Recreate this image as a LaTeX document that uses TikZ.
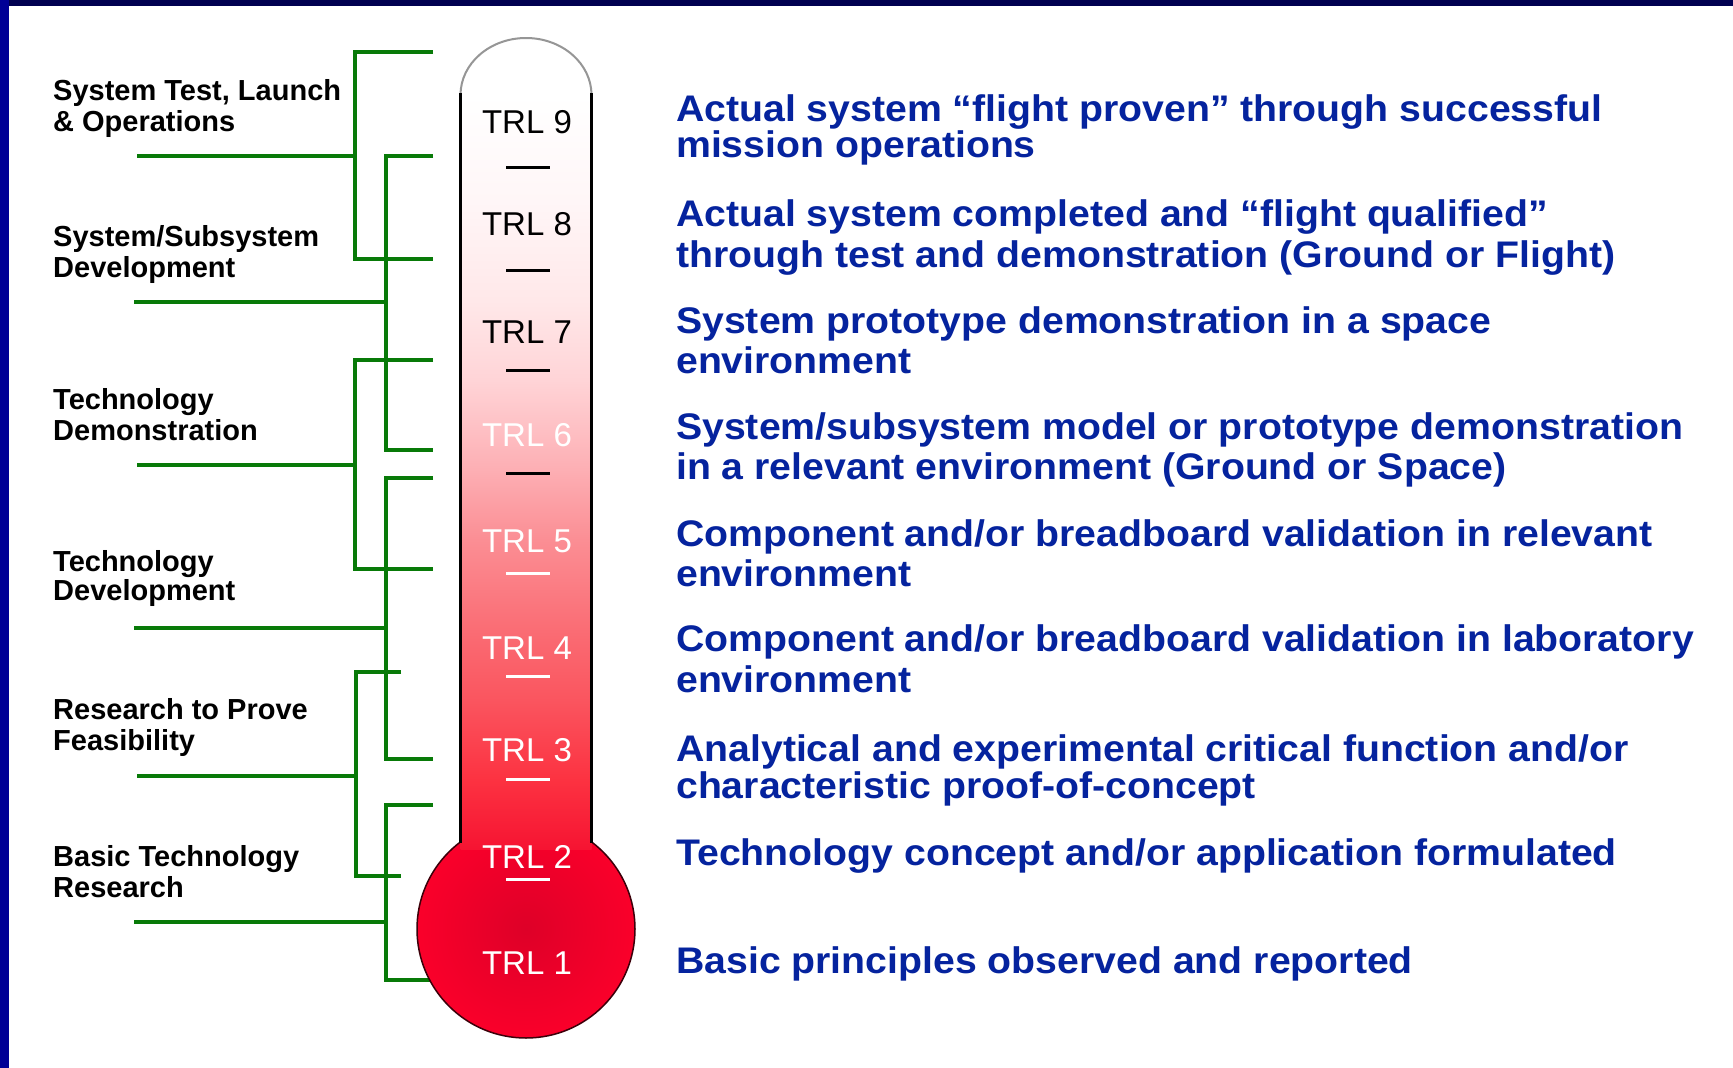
\documentclass[tikz,border=0pt]{standalone}
\usepackage{fontspec}
\setmainfont{Liberation Sans}
\newfontfamily\descfont{Liberation Sans}[FakeStretch=1.06]
\usepackage{tikz}

\definecolor{topbar}{RGB}{0,0,80}
\definecolor{sidebar}{RGB}{0,0,150}
\definecolor{trlgreen}{RGB}{8,122,8}
\definecolor{trlblue}{RGB}{5,35,158}
\definecolor{domeline}{RGB}{150,150,150}
\definecolor{bulbin}{RGB}{222,0,40}
\definecolor{bulbout}{RGB}{250,0,42}
\definecolor{bulbedge}{RGB}{60,0,10}
\definecolor{tb1}{RGB}{246,20,50}
\definecolor{tb2}{RGB}{252,50,65}
\definecolor{tb3}{RGB}{250,85,95}
\definecolor{tb4}{RGB}{250,105,113}
\definecolor{tb5}{RGB}{251,142,148}
\definecolor{tb6}{RGB}{253,175,180}
\definecolor{tb7}{RGB}{255,212,215}
\definecolor{tb8}{RGB}{255,232,233}
\definecolor{tb9}{RGB}{255,246,247}

\pgfdeclareverticalshading{tubefill}{100bp}{color(0bp)=(tb1); color(25bp)=(tb1); color(29.6bp)=(tb2); color(34.9bp)=(tb3); color(38.9bp)=(tb4); color(45.5bp)=(tb5); color(50.2bp)=(tb6); color(56.1bp)=(tb7); color(61.4bp)=(tb8); color(68bp)=(tb9); color(75bp)=(white); color(100bp)=(white)}

\tikzset{
  grn/.style={draw=trlgreen, line width=4.5pt},
  lbl/.style={anchor=base west, align=left, inner sep=0pt, font=\fontsize{29}{31}\selectfont\bfseries},
  desc/.style={anchor=base west, align=left, inner sep=0pt, text=trlblue, font=\descfont\fontsize{37}{40}\selectfont\bfseries},
  trl/.style={anchor=base, inner sep=0pt, font=\fontsize{33}{36}\selectfont},
  trltick/.style={line width=3pt},
}

\begin{document}
\begin{tikzpicture}[x=1pt, y=-1pt]
\useasboundingbox (0, 0) rectangle (1733, 1068);
\fill [white] (0, 0) rectangle (1733, 1068);
\fill [topbar] (0, 0) rectangle (1733, 5.5);
\fill [sidebar] (0, 0) rectangle (8.5, 1068);

% phases on the left (base = last line)
\node (lab1) [lbl] at (53, 131) {System Test, Launch\\\& Operations};
\node (lab2) [lbl] at (53, 277) {System/Subsystem\\Development};
\node (lab3) [lbl] at (53, 440) {Technology\\Demonstration};
\node (lab4) [lbl] at (53, 600) {Technology\\[-2.5pt]Development};
\node (lab5) [lbl] at (53, 750) {Research to Prove\\Feasibility};
\node (lab6) [lbl] at (53, 897) {Basic Technology\\Research};

% brackets
\coordinate (s1) at (137, 156);
\coordinate (j1) at (355, 156);
\coordinate (a1) at (433, 52);
\coordinate (b1) at (433, 259);
\draw [grn] (a1) -| (j1) |- (b1);
\draw [grn] (s1) -- (j1);

\coordinate (s2) at (134, 302);
\coordinate (j2) at (386, 302);
\coordinate (a2) at (433, 156);
\coordinate (b2) at (433, 450);
\draw [grn] (a2) -| (j2) |- (b2);
\draw [grn] (s2) -- (j2);

\coordinate (s3) at (137, 465);
\coordinate (j3) at (355, 465);
\coordinate (a3) at (433, 360);
\coordinate (b3) at (433, 569);
\draw [grn] (a3) -| (j3) |- (b3);
\draw [grn] (s3) -- (j3);

\coordinate (s4) at (134, 628);
\coordinate (j4) at (386, 628);
\coordinate (a4) at (433, 478);
\coordinate (b4) at (433, 759);
\draw [grn] (a4) -| (j4) |- (b4);
\draw [grn] (s4) -- (j4);

\coordinate (s5) at (137, 776);
\coordinate (j5) at (356, 776);
\coordinate (a5) at (401, 672);
\coordinate (b5) at (401, 876);
\draw [grn, line width=3.5pt] (a5) -| (j5) |- (b5);
\draw [grn] (s5) -- (j5);

\coordinate (s6) at (134, 922);
\coordinate (j6) at (386, 922);
\coordinate (a6) at (433, 805);
\coordinate (b6) at (433, 980);
\draw [grn] (a6) -| (j6) |- (b6);
\draw [grn, line width=3.5pt] (s6) -- (j6);

% thermometer
\shadedraw [draw=bulbedge, line width=1.5pt, inner color=bulbin, outer color=bulbout] (526, 929) circle [radius=109pt];
\shade [shading=tubefill] (460.5, 95) rectangle (591.5, 849);
\fill [white] (460.5, 95) arc (180:0:65.5pt and 57pt) -- cycle;
\draw [domeline, line width=2pt] (460.5, 95) arc (180:0:65.5pt and 57pt);
\draw [line width=3pt] (460.5, 93) -- (460.5, 843);
\draw [line width=3pt] (591.5, 93) -- (591.5, 843);

\node (trl9) [trl] at (527, 133) {TRL 9};
\node (trl8) [trl] at (527, 235) {TRL 8};
\node (trl7) [trl] at (527, 343) {TRL 7};
\node (trl6) [trl, text=white] at (527, 446) {TRL 6};
\node (trl5) [trl, text=white] at (527, 552) {TRL 5};
\node (trl4) [trl, text=white] at (527, 659) {TRL 4};
\node (trl3) [trl, text=white] at (527, 761) {TRL 3};
\node (trl2) [trl, text=white] at (527, 868) {TRL 2};
\node (trl1) [trl, text=white] at (527, 974) {TRL 1};

\draw [trltick] (506, 167) -- (550, 167);
\draw [trltick] (506, 270) -- (550, 270);
\draw [trltick] (506, 370) -- (550, 370);
\draw [trltick] (506, 473) -- (550, 473);
\draw [trltick, white] (506, 573) -- (550, 573);
\draw [trltick, white] (506, 676) -- (550, 676);
\draw [trltick, white] (506, 779) -- (550, 779);
\draw [trltick, white] (506, 879) -- (550, 879);

% level descriptions (base = last line)
\node (d9) [desc] at (676, 157) {Actual system “flight proven” through successful\\[-4pt]mission operations};
\node (d8) [desc] at (676, 267) {Actual system completed and “flight qualified”\\[1pt]through test and demonstration (Ground or Flight)};
\node (d7) [desc] at (676, 373) {System prototype demonstration in a space\\environment};
\node (d6) [desc] at (676, 479) {System/subsystem model or prototype demonstration\\in a relevant environment (Ground or Space)};
\node (d5) [desc] at (676, 586) {Component and/or breadboard validation in relevant\\environment};
\node (d4) [desc] at (676, 692) {Component and/or breadboard validation in laboratory\\[1pt]environment};
\node (d3) [desc] at (676, 798) {Analytical and experimental critical function and/or\\[-3pt]characteristic proof-of-concept};
\node (d2) [desc] at (676, 865) {Technology concept and/or application formulated};
\node (d1) [desc] at (676, 973) {Basic principles observed and reported};
\end{tikzpicture}
\end{document}
